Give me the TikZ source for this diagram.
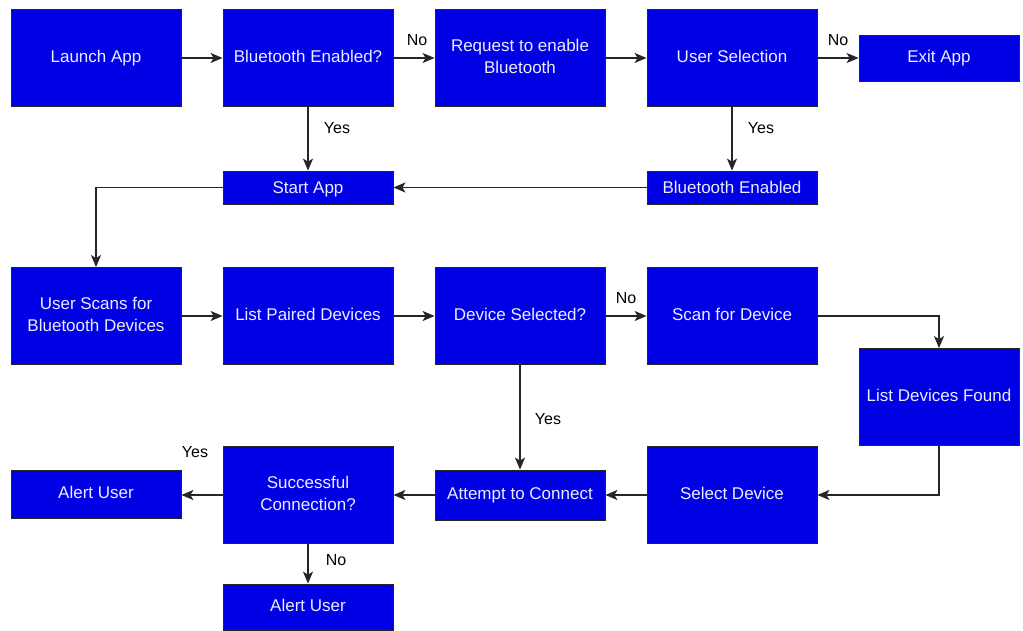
\documentclass[tikz,border=0pt]{standalone}
\usepackage{fontspec}
\setmainfont{Liberation Sans}
\usetikzlibrary{arrows.meta}
\definecolor{boxblue}{RGB}{0,0,228}
\definecolor{boxtext}{RGB}{236,236,255}
\tikzset{
  box/.style={draw=black!85, line width=0.8pt, fill=boxblue, text=boxtext,
    minimum width=170pt, minimum height=97pt, inner sep=2pt, align=center,
    font=\fontsize{17}{22}\selectfont, text depth=3pt},
  thinbox/.style={box, minimum height=33pt, text depth=0pt},
  midbox/.style={box, minimum height=48pt},
  conn/.style={draw=black!85, line width=1.7pt, -{Stealth[length=12pt,width=10pt,inset=3pt]}},
  lbl/.style={font=\fontsize{16}{19}\selectfont, text=black, inner sep=0pt}
}
\begin{document}
\begin{tikzpicture}[x=1pt,y=-1pt]
\useasboundingbox (0,0) rectangle (1023,631);
\node[box] (launch) at (96,58) {Launch App};
\node[box] (bte) at (308,58) {Bluetooth Enabled?};
\node[box] (req) at (520,58) {Request to enable\\Bluetooth};
\node[box] (usel) at (732,58) {User Selection};
\node[box, minimum width=160pt, minimum height=46pt] (exit) at (939,58) {Exit App};
\node[thinbox] (start) at (308,187.5) {Start App};
\node[thinbox] (bten) at (732,187.5) {Bluetooth Enabled};
\node[box] (scans) at (96,316) {User Scans for\\Bluetooth Devices};
\node[box] (paired) at (308,316) {List Paired Devices};
\node[box] (devsel) at (520,316) {Device Selected?};
\node[box] (scanfor) at (732,316) {Scan for Device};
\node[box, minimum width=160pt] (found) at (939,397) {List Devices Found};
\node[box] (selectdev) at (732,495) {Select Device};
\node[midbox, minimum height=50pt] (attempt) at (520,495) {Attempt to Connect};
\node[box] (success) at (308,495) {Successful\\Connection?};
\node[midbox] (alertL) at (96,494) {Alert User};
\node[midbox, minimum height=46pt] (alertB) at (308,607) {Alert User};

\draw[conn] (launch) -- (bte);
\draw[conn] (bte) -- (req);
\node[lbl] (no1) at (417,40) {No};
\draw[conn] (req) -- (usel);
\draw[conn] (usel) -- (exit);
\node[lbl] (no2) at (838,40) {No};
\draw[conn] (bte) -- (start);
\node[lbl] (yes1) at (337,128) {Yes};
\draw[conn] (usel) -- (bten);
\node[lbl] (yes2) at (761,128) {Yes};
\draw[conn] (bten) -- (start);
\draw[conn] (start.west) -| (scans.north);
\draw[conn] (scans) -- (paired);
\draw[conn] (paired) -- (devsel);
\draw[conn] (devsel) -- (scanfor);
\node[lbl] (no3) at (626,298) {No};
\draw[conn] (scanfor.east) -| (found.north);
\draw[conn] (found.south) |- (selectdev.east);
\draw[conn] (devsel) -- (attempt);
\node[lbl] (yes3) at (548,419) {Yes};
\draw[conn] (selectdev) -- (attempt);
\draw[conn] (attempt) -- (success);
\draw[conn] (success.west) -- (alertL.east |- success.west);
\node[lbl] (yes4) at (195,452) {Yes};
\draw[conn] (success) -- (alertB);
\node[lbl] (no4) at (336,560) {No};
\end{tikzpicture}
\end{document}
